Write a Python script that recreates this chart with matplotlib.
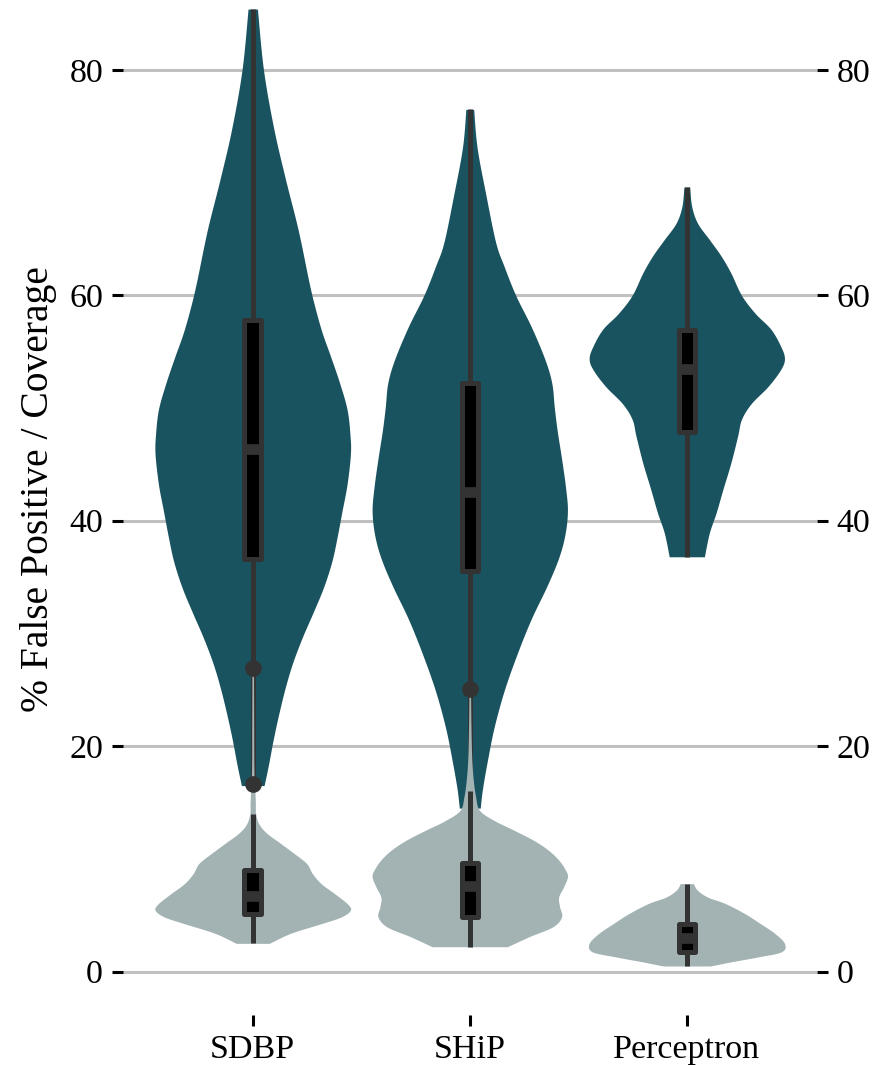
import numpy as np
import matplotlib
matplotlib.use("Agg")
import matplotlib.pyplot as plt

# categories on the x axis
categories = ['SDBP', 'SHiP', 'Perceptron']

# coverage violins: outline levels (%) and relative density (1 = widest)
cov_levels = [
    [16.5, 18.3, 20.6, 22.8, 25.1, 27.3, 29.6, 31.9, 34.1, 36.4, 38.6, 40.9, 43.2,
     45.9, 47.7, 49.9, 52.2, 54.5, 56.7, 59.0, 61.2, 65.8, 70.3, 74.8, 80.0, 85.4],
    [14.5, 16.2, 18.7, 21.7, 25.0, 28.3, 31.3, 34.2, 36.7, 38.8, 40.9, 43.0, 45.5,
     48.0, 50.1, 52.2, 54.3, 57.2, 60.0, 62.6, 64.7, 68.9, 73.1, 76.5],
    [36.8, 38.9, 40.7, 42.8, 45.1, 47.5, 49.0, 50.4, 51.9, 53.4, 54.4, 55.5, 57.0,
     58.4, 60.0, 62.0, 63.5, 64.9, 66.4, 67.9, 69.6],
]
cov_density = [
    [0.116, 0.16, 0.21, 0.265, 0.33, 0.405, 0.505, 0.62, 0.725, 0.81, 0.865, 0.915, 0.965,
     1.0, 0.995, 0.965, 0.89, 0.8, 0.71, 0.635, 0.575, 0.465, 0.335, 0.215, 0.11, 0.048],
    [0.107, 0.13, 0.18, 0.25, 0.355, 0.49, 0.63, 0.79, 0.91, 0.975, 1.0, 0.98, 0.94,
     0.895, 0.865, 0.84, 0.77, 0.63, 0.47, 0.35, 0.265, 0.165, 0.075, 0.04],
    [0.18, 0.23, 0.3, 0.37, 0.45, 0.52, 0.56, 0.66, 0.83, 0.96, 1.0, 0.96, 0.86,
     0.70, 0.56, 0.45, 0.35, 0.235, 0.11, 0.05, 0.03],
]

# false positive violins
fp_levels = [
    [2.5, 3.4, 4.27, 4.86, 5.45, 6.0, 6.9, 7.8, 8.7, 9.6, 10.5, 11.4, 12.3, 13.1,
     14.0, 15.0, 16.1, 18.0, 22.0, 27.0],
    [2.2, 3.1, 3.97, 4.86, 5.75, 6.6, 7.5, 8.4, 9.0, 9.9, 10.8, 11.66, 12.55, 13.4,
     14.3, 15.5, 17.0, 19.0, 22.0, 25.1],
    [0.49, 0.87, 1.3, 1.76, 2.5, 3.39, 4.27, 5.16, 6.05, 6.6, 7.2, 7.8],
]
fp_density = [
    [0.17, 0.39, 0.71, 0.91, 1.0, 0.97, 0.84, 0.7, 0.61, 0.55, 0.42, 0.28, 0.14, 0.063,
     0.03, 0.027, 0.022, 0.012, 0.01, 0.008],
    [0.385, 0.61, 0.85, 0.94, 0.92, 0.91, 0.96, 1.0, 0.98, 0.91, 0.8, 0.65, 0.45, 0.25,
     0.1, 0.06, 0.036, 0.02, 0.012, 0.008],
    [0.24, 0.46, 0.73, 0.97, 1.0, 0.9, 0.75, 0.59, 0.39, 0.215, 0.11, 0.067],
]

# box plot summaries
cov_q1 = [36.6, 35.5, 47.9]
cov_med = [46.4, 42.55, 53.5]
cov_q3 = [57.84, 52.26, 56.95]
cov_lo = [16.6, 14.5, 36.8]
cov_hi = [85.4, 76.5, 69.6]

fp_q1 = [5.06, 4.85, 1.75]
fp_med = [6.74, 7.57, 2.94]
fp_q3 = [9.05, 9.67, 4.26]
fp_lo = [2.5, 2.2, 0.49]
fp_hi = [14.0, 16.0, 7.8]
fp_fliers = [[16.6, 26.9], [25.1], []]

COV_COLOR = '#19535f'
FP_COLOR = '#a3b3b4'
EDGE = '#333333'

plt.rcParams['font.family'] = ['Liberation Serif', 'DejaVu Serif']


def catmull_rom(ys, ws, n=16):
    # smooth the outline through the read points
    pts = np.column_stack([ys, ws]).astype(float)
    pts = np.vstack([pts[0], pts, pts[-1]])
    out = []
    for i in range(1, len(pts) - 2):
        p0, p1, p2, p3 = pts[i - 1], pts[i], pts[i + 1], pts[i + 2]
        t = np.linspace(0, 1, n, endpoint=False)[:, None]
        seg = 0.5 * ((2 * p1) + (-p0 + p2) * t
                     + (2 * p0 - 5 * p1 + 4 * p2 - p3) * t ** 2
                     + (-p0 + 3 * p1 - 3 * p2 + p3) * t ** 3)
        out.append(seg)
    out.append(pts[-2][None, :])
    out = np.vstack(out)
    return out[:, 0], np.clip(out[:, 1], 0, None)


def draw_violins(ax, levels, density, color, z, half=0.45):
    for i, (lv, dn) in enumerate(zip(levels, density)):
        yy, ww = catmull_rom(lv, dn)
        ax.fill_betweenx(yy, i - ww * half, i + ww * half, color=color,
                         linewidth=0, zorder=z)


def draw_boxes(ax, q1, med, q3, lo, hi, fliers, z):
    stats = []
    for i in range(len(q1)):
        stats.append(dict(q1=q1[i], med=med[i], q3=q3[i], whislo=lo[i],
                          whishi=hi[i], fliers=fliers[i]))
    ax.bxp(stats, positions=range(len(q1)), widths=0.076, patch_artist=True,
           showcaps=False, manage_ticks=False, zorder=z,
           boxprops=dict(facecolor='black', edgecolor=EDGE, linewidth=3.6,
                         joinstyle='round'),
           medianprops=dict(color=EDGE, linewidth=7.7, solid_capstyle='butt'),
           whiskerprops=dict(color=EDGE, linewidth=3.6, solid_capstyle='butt'),
           flierprops=dict(marker='o', markerfacecolor=EDGE, markeredgecolor=EDGE,
                           markersize=11))


fig = plt.figure(figsize=(8.77, 10.65), dpi=100)
ax = fig.add_axes([0.1397, 0.0465, 0.7919, 0.9524])

# coverage first, false positives on top
draw_violins(ax, cov_levels, cov_density, COV_COLOR, 2)
draw_boxes(ax, cov_q1, cov_med, cov_q3, cov_lo, cov_hi, [[], [], []], 3)
draw_violins(ax, fp_levels, fp_density, FP_COLOR, 4)
draw_boxes(ax, fp_q1, fp_med, fp_q3, fp_lo, fp_hi, fp_fliers, 5)

ax.set_xlim(-0.6, 2.6)
ax.set_ylim(-3.9, 86.1)
ax.set_yticks([0, 20, 40, 60, 80])
ax.set_xticks(range(len(categories)))
ax.set_xticklabels(categories)
ax.yaxis.grid(True, color='#c0c0c0', linewidth=2.2, zorder=0)
ax.set_axisbelow(True)
for s in ax.spines.values():
    s.set_visible(False)

ax.tick_params(axis='y', which='both', left=True, right=True, labelleft=True,
               labelright=True, length=8, width=2.2, color='black',
               labelsize=24.5, pad=6)
ax.tick_params(axis='x', length=8, width=2.2, color='black', labelsize=24.5, pad=6)
ax.set_ylabel('% False Positive / Coverage', fontsize=28.5)
ax.yaxis.set_label_coords(-0.094, 0.519)

fig.savefig('out.png', dpi=100)
